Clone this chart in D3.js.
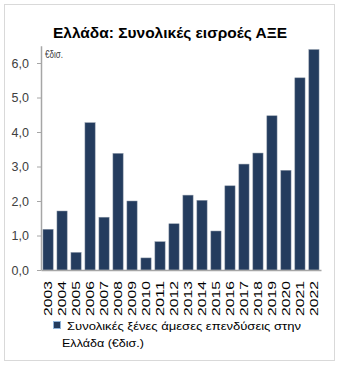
<!DOCTYPE html>
<html><head><meta charset="utf-8">
<script src="https://cdn.jsdelivr.net/npm/d3@7"></script>
<style>body{margin:0;background:#fff}svg{display:block}text{font-family:"Liberation Sans",Arial,sans-serif}</style>
</head><body><svg id="c" width="341" height="365"></svg>
<script>
const years = ["2003","2004","2005","2006","2007","2008","2009","2010","2011","2012","2013","2014","2015","2016","2017","2018","2019","2020","2021","2022"];
const fdi = [1.18,1.71,0.51,4.27,1.53,3.38,2.0,0.35,0.82,1.34,2.17,2.02,1.13,2.44,3.07,3.39,4.47,2.89,5.57,6.39];
const yTicks = [0,1,2,3,4,5,6];
const title = "Ελλάδα: Συνολικές εισροές ΑΞΕ";
const unitLabel = "€δισ.";
const legendLines = ["Συνολικές ξένες άμεσες επενδύσεις στην","Ελλάδα (€δισ.)"];

const svg = d3.select("#c");
svg.append("rect").attr("x",4.5).attr("y",4.5).attr("width",330).attr("height",356)
  .attr("fill","#fff").attr("stroke","#d9d9d9");
svg.append("text").attr("x",53).attr("y",37.5)
  .attr("font-size",15).attr("font-weight","bold").attr("fill","#000")
  .attr("textLength",234).attr("lengthAdjust","spacingAndGlyphs").text(title);

const x = d3.scaleBand().domain(years).range([41,321]).paddingInner(0.27).paddingOuter(0.14);
const y = d3.scaleLinear().domain([0,6.5]).range([270,45.75]);
const fmt = d => d3.format(".1f")(d).replace(".",",");

const gy = svg.append("g").attr("transform","translate(41,0)")
  .call(d3.axisLeft(y).tickValues(yTicks).tickFormat(fmt).tickSizeInner(4).tickSizeOuter(0).tickPadding(8));
gy.select(".domain").attr("stroke","#a6a6a6").attr("stroke-width",1.5);
gy.selectAll(".tick line").attr("stroke","#a6a6a6").attr("stroke-width",1);
gy.selectAll("text").attr("font-size",12.5).attr("fill","#404040").attr("font-family","Liberation Sans, Arial, sans-serif");

svg.append("g").selectAll("rect").data(years).join("rect")
  .attr("x",d=>x(d)).attr("width",x.bandwidth())
  .attr("y",(d,i)=>y(fdi[i])).attr("height",(d,i)=>y(0)-y(fdi[i]))
  .attr("fill","#243c5e").attr("stroke","#8c98a8").attr("stroke-width",0.5);

const gx = svg.append("g").attr("transform","translate(0,270)")
  .call(d3.axisBottom(x).tickSize(0).tickPadding(0));
gx.select(".domain").attr("stroke","#a6a6a6").attr("stroke-width",1.5);
gx.selectAll("text").attr("font-size",10.5).attr("fill","#000")
  .attr("font-family","Liberation Sans, Arial, sans-serif")
  .attr("text-anchor","end").attr("dy","0.35em")
  .attr("textLength",35).attr("lengthAdjust","spacingAndGlyphs")
  .attr("transform","translate(0,11) rotate(-90)").attr("x",0).attr("y",0);

svg.append("text").attr("x",45).attr("y",58).attr("font-size",10).attr("fill","#404040")
  .attr("textLength",18).attr("lengthAdjust","spacingAndGlyphs").text(unitLabel);

svg.append("rect").attr("x",53.5).attr("y",321.5).attr("width",7).attr("height",7)
  .attr("fill","#243c5e").attr("stroke","#8fb3d9").attr("stroke-width",1);
svg.append("text").attr("x",67).attr("y",329.5).attr("font-size",11.5).attr("fill","#000")
  .attr("textLength",234).attr("lengthAdjust","spacingAndGlyphs").text(legendLines[0]);
svg.append("text").attr("x",62).attr("y",346.5).attr("font-size",11.5).attr("fill","#000")
  .attr("textLength",82).attr("lengthAdjust","spacingAndGlyphs").text(legendLines[1]);
</script></body></html>
